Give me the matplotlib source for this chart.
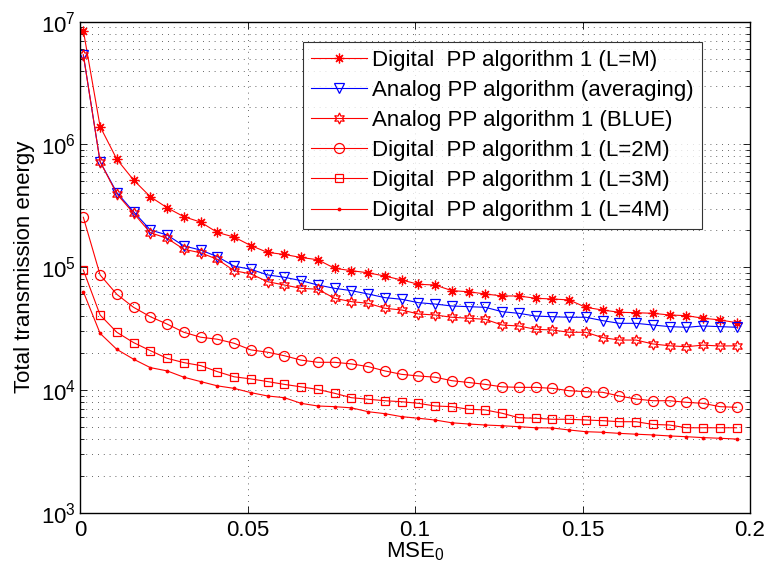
import numpy as np
import matplotlib
matplotlib.use("Agg")
import matplotlib.pyplot as plt
from matplotlib.ticker import LogLocator, NullFormatter, FixedLocator

plt.rcParams['font.family'] = ['Liberation Sans', 'DejaVu Sans']
plt.rcParams['mathtext.fontset'] = 'custom'
plt.rcParams['mathtext.rm'] = 'Liberation Sans'
plt.rcParams['mathtext.it'] = 'Liberation Sans:italic'

# MSE_0 sample points
mse0 = [0.001 + 0.005 * k for k in range(40)]

digital_L1 = [8.45e6, 1.40e6, 7.57e5, 5.13e5, 3.75e5, 3.05e5, 2.58e5, 2.33e5, 1.92e5, 1.76e5,
              1.50e5, 1.32e5, 1.27e5, 1.20e5, 1.15e5, 9.8e4, 9.37e4, 9.0e4, 8.47e4, 7.87e4,
              7.26e4, 7.16e4, 6.44e4, 6.31e4, 6.05e4, 5.83e4, 5.83e4, 5.58e4, 5.51e4, 5.41e4,
              4.71e4, 4.48e4, 4.29e4, 4.26e4, 4.21e4, 4.08e4, 4.03e4, 3.84e4, 3.72e4, 3.53e4]

analog_avg = [5.36e6, 7.24e5, 4.05e5, 2.83e5, 2.01e5, 1.83e5, 1.49e5, 1.38e5, 1.22e5, 1.02e5,
              9.62e4, 8.65e4, 8.28e4, 7.77e4, 7.16e4, 6.73e4, 6.44e4, 6.05e4, 5.65e4, 5.48e4,
              5.14e4, 5.01e4, 4.83e4, 4.77e4, 4.71e4, 4.34e4, 4.21e4, 4.00e4, 3.95e4, 3.91e4,
              3.91e4, 3.67e4, 3.49e4, 3.49e4, 3.38e4, 3.28e4, 3.24e4, 3.32e4, 3.28e4, 3.24e4]

analog_blue = [5.36e6, 7.24e5, 3.95e5, 2.75e5, 1.91e5, 1.72e5, 1.40e5, 1.31e5, 1.16e5, 9.37e4,
               8.81e4, 7.62e4, 7.16e4, 6.73e4, 6.61e4, 5.58e4, 5.24e4, 5.08e4, 4.63e4, 4.48e4,
               4.16e4, 4.08e4, 3.91e4, 3.84e4, 3.76e4, 3.38e4, 3.32e4, 3.12e4, 3.08e4, 2.95e4,
               2.95e4, 2.67e4, 2.55e4, 2.55e4, 2.37e4, 2.29e4, 2.25e4, 2.32e4, 2.28e4, 2.29e4]

digital_L2 = [2.55e5, 8.65e4, 6.01e4, 4.71e4, 3.95e4, 3.44e4, 2.95e4, 2.69e4, 2.59e4, 2.40e4,
              2.12e4, 2.03e4, 1.90e4, 1.75e4, 1.68e4, 1.68e4, 1.63e4, 1.55e4, 1.43e4, 1.34e4,
              1.30e4, 1.27e4, 1.19e4, 1.15e4, 1.11e4, 1.06e4, 1.05e4, 1.05e4, 1.03e4, 9.86e3,
              9.68e3, 9.57e3, 8.93e3, 8.44e3, 8.17e3, 8.17e3, 7.93e3, 7.78e3, 7.31e3, 7.22e3]

digital_L3 = [9.48e4, 4.08e4, 2.95e4, 2.43e4, 2.09e4, 1.81e4, 1.67e4, 1.58e4, 1.41e4, 1.28e4,
              1.23e4, 1.17e4, 1.11e4, 1.06e4, 1.01e4, 9.39e3, 8.65e3, 8.40e3, 8.17e3, 8.02e3,
              7.78e3, 7.40e3, 7.31e3, 6.96e3, 6.87e3, 6.46e3, 5.94e3, 5.88e3, 5.77e3, 5.77e3,
              5.69e3, 5.62e3, 5.51e3, 5.51e3, 5.24e3, 5.18e3, 4.92e3, 4.92e3, 4.92e3, 4.92e3]

digital_L4 = [6.31e4, 2.89e4, 2.14e4, 1.78e4, 1.52e4, 1.43e4, 1.27e4, 1.17e4, 1.08e4, 1.03e4,
              9.51e3, 8.93e3, 8.65e3, 7.78e3, 7.40e3, 7.31e3, 7.15e3, 6.65e3, 6.41e3, 6.06e3,
              5.88e3, 5.69e3, 5.40e3, 5.28e3, 5.18e3, 5.11e3, 5.02e3, 4.92e3, 4.90e3, 4.72e3,
              4.57e3, 4.52e3, 4.43e3, 4.36e3, 4.30e3, 4.22e3, 4.16e3, 4.09e3, 4.04e3, 3.98e3]

labels = ["Digital  PP algorithm 1 (L=M)",
          "Analog PP algorithm (averaging)",
          "Analog PP algorithm 1 (BLUE)",
          "Digital  PP algorithm 1 (L=2M)",
          "Digital  PP algorithm 1 (L=3M)",
          "Digital  PP algorithm 1 (L=4M)"]

x_ticks = [0, 0.05, 0.1, 0.15, 0.2]
x_ticklabels = ["0", "0.05", "0.1", "0.15", "0.2"]

FS = 16

fig = plt.figure(figsize=(7.72, 5.78), dpi=100)
ax = fig.add_axes([80 / 772, 1 - 512.7 / 578, 670 / 772, 491 / 578])

lw = 0.8
mew = 0.9
red = (1, 0, 0)
blue = (0, 0, 1)
ax.plot(mse0, digital_L1, color=red, lw=lw, marker=(8, 2, 0), ms=7, mew=mew, label=labels[0])
ax.plot(mse0, analog_avg, color=blue, lw=lw, marker='v', ms=7.5, mfc='none', mew=mew, label=labels[1])
ax.plot(mse0, analog_blue, color=red, lw=lw, marker=(6, 1, 0), ms=8, mfc='none', mew=mew, label=labels[2])
ax.plot(mse0, digital_L2, color=red, lw=lw, marker='o', ms=7.2, mfc='none', mew=mew, label=labels[3])
ax.plot(mse0, digital_L3, color=red, lw=lw, marker='s', ms=6.3, mfc='none', mew=mew, label=labels[4])
ax.plot(mse0, digital_L4, color=red, lw=lw, marker='.', ms=3.5, label=labels[5])

ax.set_yscale('log')
ax.set_xlim(0, 0.2)
ax.set_ylim(1e3, 1e7)
ax.xaxis.set_major_locator(FixedLocator(x_ticks))
ax.set_xticklabels(x_ticklabels)
ax.yaxis.set_major_locator(LogLocator(base=10, numticks=10))
ax.yaxis.set_minor_locator(LogLocator(base=10, subs=np.arange(2, 10), numticks=20))
ax.yaxis.set_minor_formatter(NullFormatter())

ax.tick_params(which='both', direction='in', top=True, right=True, labelsize=FS, width=0.6)
ax.tick_params(which='major', length=5)
ax.tick_params(which='minor', length=3)
ax.tick_params(axis='x', pad=5)
ax.tick_params(axis='y', pad=3)

ax.grid(True, which='major', linestyle=(0, (1, 6)), color='#333333', lw=0.6)
ax.grid(True, which='minor', axis='y', linestyle=(0, (1, 6)), color='#333333', lw=0.6)
ax.set_axisbelow(True)
for s in ax.spines.values():
    s.set_linewidth(1.0)

ax.set_xlabel(r'MSE$_0$', fontsize=FS, labelpad=0)
ax.set_ylabel('Total transmission energy', fontsize=FS, labelpad=4)

leg = ax.legend(loc='upper right', bbox_to_anchor=(0.928, 0.9587), borderaxespad=0,
                fontsize=FS, frameon=True, fancybox=False, edgecolor='black',
                handlelength=2.5, handletextpad=0.25, labelspacing=0.41,
                borderpad=0.35, numpoints=1)
leg.get_frame().set_linewidth(0.8)

fig.savefig('out.png', dpi=100)
